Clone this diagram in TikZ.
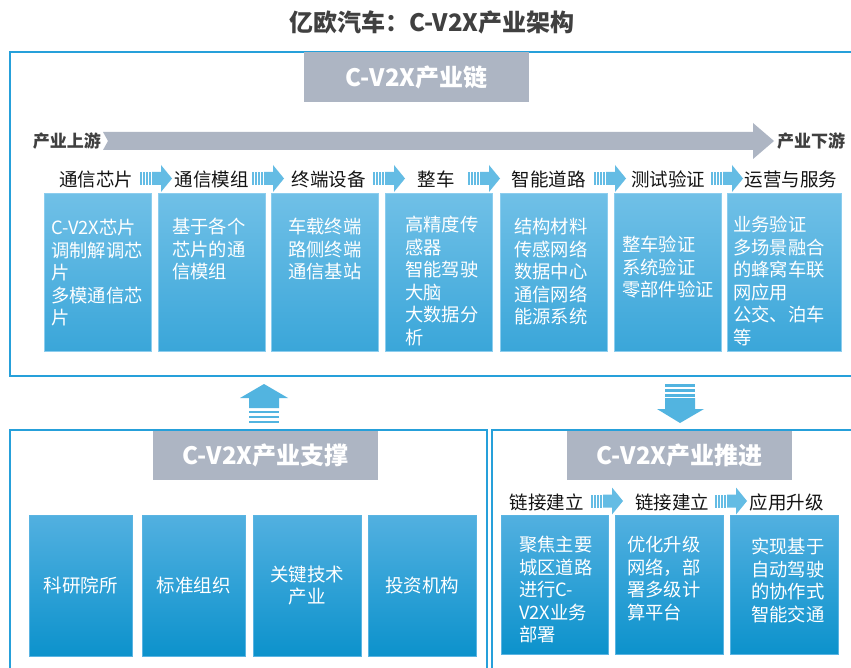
\documentclass[tikz,border=0pt]{standalone}
\usepackage{fontspec}
\setmainfont{Noto Sans CJK SC}
\definecolor{bord}{RGB}{38,160,218}
\definecolor{hgray}{RGB}{173,181,195}
\definecolor{tbA}{RGB}{112,192,231}
\definecolor{tbB}{RGB}{58,166,217}
\definecolor{tbE}{RGB}{140,205,238}
\definecolor{bbA}{RGB}{82,176,224}
\definecolor{bbB}{RGB}{12,146,204}
\definecolor{bbE}{RGB}{90,180,226}
\definecolor{arrc}{RGB}{100,188,228}
\definecolor{bigarr}{RGB}{82,180,224}
\definecolor{labc}{RGB}{20,20,20}
\definecolor{titc}{RGB}{64,64,64}
\tikzset{
  frame/.style={draw=bord, line width=2pt},
  hdr/.style={fill=hgray, text=white, font=\fontsize{24}{28}\selectfont\bfseries, inner sep=0, anchor=north west},
  topbox/.style={top color=tbA, bottom color=tbB, draw=tbE, line width=0.8pt, anchor=north west, minimum width=107pt, minimum height=158pt, inner sep=0},
  botbox/.style={top color=bbA, bottom color=bbB, draw=bbE, line width=0.8pt, anchor=north west, minimum height=141pt, inner sep=0, text=white, align=center, font=\fontsize{18.5}{22}\selectfont},
  boxtxt/.style={text=white, font=\fontsize{18.3}{22.5}\selectfont, align=left, anchor=north west, inner sep=0},
  steplbl/.style={font=\fontsize{18.5}{22}\selectfont, text=labc, inner sep=0},
  endlbl/.style={font=\fontsize{17}{20}\selectfont\bfseries, text=titc, inner sep=0},
  pics/smallarr/.style={code={
    \foreach \i in {0,3,6,9} {\fill[arrc] (\i,-6.5) rectangle (\i+1.6,6.5);}
    \fill[arrc] (12,-6.5) -- (21,-6.5) -- (21,-13.5) -- (32,0) -- (21,13.5) -- (21,6.5) -- (12,6.5) -- cycle;
  }}
}
\begin{document}
\begin{tikzpicture}[x=1pt,y=-1pt]
\useasboundingbox (0,0) rectangle (851,668);
\clip (0,0) rectangle (851,668);
\fill[white] (0,0) rectangle (851,668);

% title
\node[font=\fontsize{24}{28}\selectfont\bfseries, text=titc, inner sep=0] (title) at (432,22) {亿欧汽车：C-V2X产业架构};

% frames
\draw[frame] (10,52) rectangle (870,376);
\draw[frame] (10,430) rectangle (487,690);
\draw[frame] (492,430) rectangle (870,690);

% headers
\node[hdr, minimum width=225pt, minimum height=50pt] (h1) at (304,52) {C-V2X产业链};
\node[hdr, minimum width=225pt, minimum height=49pt] (h2) at (153,431) {C-V2X产业支撑};
\node[hdr, minimum width=225pt, minimum height=49pt] (h3) at (567,431) {C-V2X产业推进};

% big gray arrow
\fill[hgray] (103,132) -- (753,132) -- (753,123) -- (774,141) -- (753,159) -- (753,150) -- (103,150) -- (108,141) -- cycle;
\node[endlbl, anchor=east] (up) at (101,141) {产业上游};
\node[endlbl, anchor=west] (down) at (777,141) {产业下游};

% step labels
\node[steplbl] (l1) at (96,179) {通信芯片};
\node[steplbl] (l2) at (211.5,179) {通信模组};
\node[steplbl] (l3) at (328.5,179) {终端设备};
\node[steplbl] (l4) at (436,179) {整车};
\node[steplbl] (l5) at (548.5,179) {智能道路};
\node[steplbl] (l6) at (668,179) {测试验证};
\node[steplbl] (l7) at (791,179) {运营与服务};

\pic at (140,178.5) {smallarr};
\pic at (252,178.5) {smallarr};
\pic at (373,178.5) {smallarr};
\pic at (468,178.5) {smallarr};
\pic at (594,178.5) {smallarr};
\pic at (711,178.5) {smallarr};

% top boxes
\node[topbox] (b1) at (44,193) {};
\node[topbox] (b2) at (158,193) {};
\node[topbox] (b3) at (271,193) {};
\node[topbox] (b4) at (385,193) {};
\node[topbox] (b5) at (500,193) {};
\node[topbox] (b6) at (614,193) {};
\node[topbox, minimum width=114pt] (b7) at (727,193) {};

\node[boxtxt] (t1) at (51,219) {C-V2X芯片\\调制解调芯\\片\\多模通信芯\\片};
\node[boxtxt] (t2) at (172,218) {基于各个\\芯片的通\\信模组};
\node[boxtxt] (t3) at (288,218) {车载终端\\路侧终端\\通信基站};
\node[boxtxt] (t4) at (405,216) {高精度传\\感器\\智能驾驶\\大脑\\大数据分\\析};
\node[boxtxt] (t5) at (514,218) {结构材料\\传感网络\\数据中心\\通信网络\\能源系统};
\node[boxtxt] (t6) at (622,236) {整车验证\\系统验证\\零部件验证};
\node[boxtxt] (t7) at (733,216) {业务验证\\多场景融合\\的蜂窝车联\\网应用\\公交、泊车\\等};

% up arrow
\fill[bigarr] (264,384) -- (288,398) -- (279,398) -- (279,408) -- (249,408) -- (249,398) -- (240,398) -- cycle;
\foreach \s in {410.5,415.5,420.5} {\fill[bigarr] (249,\s) rectangle (279,\s+2.5);}

% down arrow
\foreach \s in {384,389,394} {\fill[bigarr] (665,\s) rectangle (695,\s+2.5);}
\fill[bigarr] (665,398) -- (695,398) -- (695,409) -- (704,409) -- (680,423) -- (657,409) -- (665,409) -- cycle;

% bottom-left boxes
\node[botbox, minimum width=103pt] (s1) at (29,515) {科研院所};
\node[botbox, minimum width=103pt] (s2) at (142,515) {标准组织};
\node[botbox, minimum width=108pt] (s3) at (253,515) {关键技术\\产业};
\node[botbox, minimum width=108pt] (s4) at (368,515) {投资机构};

% bottom-right labels
\node[steplbl] (m1) at (546.5,502) {链接建立};
\node[steplbl] (m2) at (672,502) {链接建立};
\node[steplbl] (m3) at (786.5,502) {应用升级};
\pic at (591,501) {smallarr};
\pic at (715,501) {smallarr};

% bottom-right boxes
\node[botbox, minimum width=107pt, minimum height=139pt] (p1) at (501,515) {};
\node[botbox, minimum width=108pt, minimum height=139pt] (p2) at (615,515) {};
\node[botbox, minimum width=108pt, minimum height=139pt] (p3) at (730,515) {};
\node[boxtxt] (q1) at (519,536) {聚焦主要\\城区道路\\进行C-\\V2X业务\\部署};
\node[boxtxt] (q2) at (627,536) {优化升级\\网络，部\\署多级计\\算平台};
\node[boxtxt] (q3) at (751,538) {实现基于\\自动驾驶\\的协作式\\智能交通};
\end{tikzpicture}
\end{document}
